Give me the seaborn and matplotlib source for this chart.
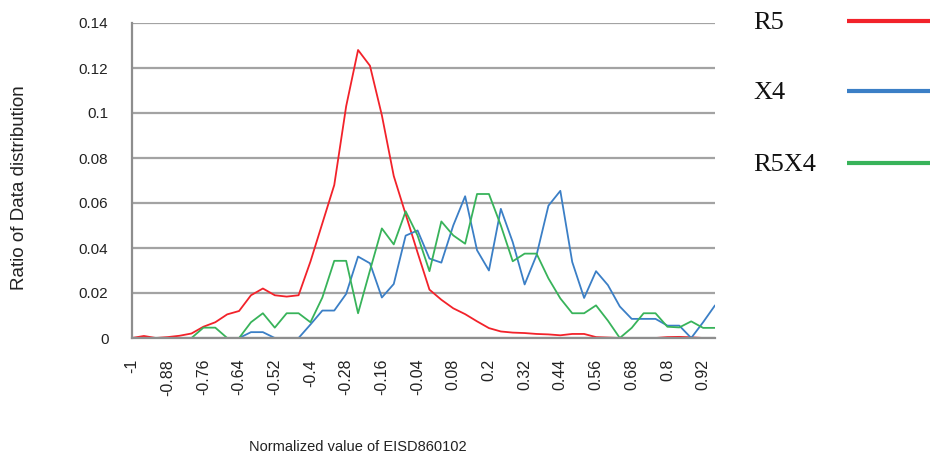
import numpy as np
import pandas as pd
import matplotlib
matplotlib.use("Agg")
import matplotlib.pyplot as plt
import seaborn as sns
from matplotlib.lines import Line2D

# Normalized value categories (bin starts)
categories = [
    "-1", "-0.96", "-0.92", "-0.88", "-0.84", "-0.8", "-0.76", "-0.72", "-0.68", "-0.64",
    "-0.6", "-0.56", "-0.52", "-0.48", "-0.44", "-0.4", "-0.36", "-0.32", "-0.28", "-0.24",
    "-0.2", "-0.16", "-0.12", "-0.08", "-0.04", "0", "0.04", "0.08", "0.12", "0.16",
    "0.2", "0.24", "0.28", "0.32", "0.36", "0.4", "0.44", "0.48", "0.52", "0.56",
    "0.6", "0.64", "0.68", "0.72", "0.76", "0.8", "0.84", "0.88", "0.92", "0.96",
]

r5 = [
    0, 0.0009, 0, 0.0004, 0.001, 0.002, 0.005, 0.007, 0.0105, 0.012,
    0.019, 0.022, 0.019, 0.0184, 0.019, 0.034, 0.051, 0.068, 0.103, 0.128,
    0.121, 0.099, 0.072, 0.055, 0.038, 0.0215, 0.017, 0.0132, 0.0106, 0.0074,
    0.0044, 0.0029, 0.0024, 0.0022, 0.0018, 0.0016, 0.0012, 0.0018, 0.0018, 0.0004,
    0.0002, 0, 0, 0, 0, 0.0004, 0.0005, 0.0003, 0, 0,
]

x4 = [
    0, 0, 0, 0, 0, 0, 0, 0, 0, 0,
    0.0026, 0.0026, 0, 0, 0, 0.006, 0.0122, 0.0122, 0.0196, 0.0362,
    0.0332, 0.018, 0.024, 0.0455, 0.0478, 0.0353, 0.0335, 0.050, 0.063, 0.039,
    0.030, 0.0574, 0.0426, 0.0238, 0.0368, 0.0588, 0.0654, 0.0338, 0.0178, 0.0297,
    0.0235, 0.014, 0.0085, 0.0085, 0.0085, 0.0055, 0.0055, 0, 0.007, 0.0145,
]

r5x4 = [
    0, 0, 0, 0, 0, 0, 0.0046, 0.0046, 0, 0,
    0.007, 0.011, 0.0046, 0.011, 0.011, 0.007, 0.018, 0.0343, 0.0343, 0.011,
    0.030, 0.0487, 0.0416, 0.0563, 0.0456, 0.0297, 0.0518, 0.0456, 0.0419, 0.064,
    0.064, 0.050, 0.0341, 0.0375, 0.0375, 0.0265, 0.0176, 0.011, 0.011, 0.0145,
    0.0077, 0, 0.0045, 0.011, 0.011, 0.005, 0.0047, 0.0074, 0.0045, 0.0045,
]

series_names = ["R5", "X4", "R5X4"]
y_ticks = [0, 0.02, 0.04, 0.06, 0.08, 0.1, 0.12, 0.14]
y_tick_labels = ["0", "0.02", "0.04", "0.06", "0.08", "0.1", "0.12", "0.14"]

palette = {"R5": "#f2222a", "X4": "#3b7fc6", "R5X4": "#38b35a"}

frames = []
for name, vals in zip(series_names, [r5, x4, r5x4]):
    frames.append(pd.DataFrame({
        "pos": np.arange(len(categories)),
        "category": categories,
        "value": vals,
        "series": name,
    }))
df = pd.concat(frames, ignore_index=True)

sns.set_style("white")
plt.rcParams["font.family"] = ["Liberation Sans", "DejaVu Sans"]

W, H = 930, 462
fig = plt.figure(figsize=(W / 100, H / 100), dpi=100)
ax = fig.add_axes([132 / W, 1 - 338 / H, 583 / W, 315 / H])

sns.lineplot(data=df, x="pos", y="value", hue="series", hue_order=series_names,
             palette=palette, linewidth=1.3, legend=False, ax=ax, zorder=2)

grey = "#8e8e8e"
ax.set_xlim(0, len(categories) - 1)
ax.set_ylim(0, 0.14)
ax.set_yticks(y_ticks)
ax.set_yticklabels(y_tick_labels)
ax.yaxis.grid(True, color="#a3a3a3", linewidth=1.6)
ax.xaxis.grid(False)
ax.set_axisbelow(True)

ax.set_xticks(np.arange(len(categories)))
ax.set_xticklabels([c if i % 3 == 0 else "" for i, c in enumerate(categories)],
                   rotation=90, ha="center", va="top")

for side in ["top", "right"]:
    ax.spines[side].set_visible(False)
for side in ["left", "bottom"]:
    ax.spines[side].set_color(grey)
    ax.spines[side].set_linewidth(1.6)
    ax.spines[side].set_zorder(5)

ax.tick_params(axis="x", length=6, width=1.2, color=grey, direction="out",
               labelsize=11.5, labelcolor="#222222", pad=9)
ax.tick_params(axis="y", length=6, width=1.2, color=grey, direction="out",
               labelsize=11, labelcolor="#222222", pad=11)
ax.set_xlabel("")
ax.set_ylabel("")

fig.text(20 / W, 1 - 188 / H, "Ratio of Data distribution", rotation=90,
         ha="center", va="center", fontsize=13.5, color="#222222")
fig.text(358 / W, 1 - 447 / H, "Normalized value of EISD860102",
         ha="center", va="center", fontsize=10.5, color="#222222")

# Legend drawn at the right of the figure: label then a line sample
legend_rows = [23, 93, 165]
for name, yy in zip(series_names, legend_rows):
    fig.text(753 / W, 1 - yy / H, name, ha="left", va="center",
             fontsize=19, family=["Liberation Serif", "DejaVu Serif"], color="#111111")
    fig.add_artist(Line2D([847 / W, 940 / W], [1 - (yy - 2) / H, 1 - (yy - 2) / H],
                          transform=fig.transFigure, color=palette[name],
                          linewidth=3, solid_capstyle="butt"))

fig.savefig("out.png", dpi=100)
